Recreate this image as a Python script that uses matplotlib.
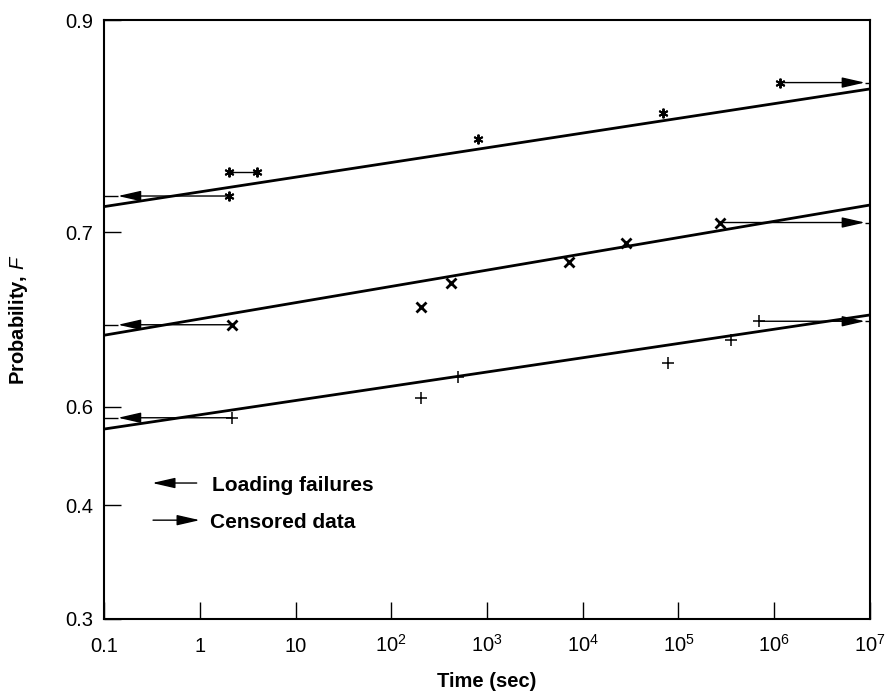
import numpy as np
import matplotlib.pyplot as plt

plt.rcParams['font.family'] = ['Liberation Sans', 'DejaVu Sans']
plt.rcParams['mathtext.fontset'] = 'custom'
plt.rcParams['mathtext.rm'] = 'Liberation Sans'
plt.rcParams['mathtext.it'] = 'Liberation Sans:italic'
plt.rcParams['mathtext.bf'] = 'Liberation Sans:bold'

# probability axis as printed (uneven spacing of the ticks)
p_ticks = [0.3, 0.4, 0.6, 0.7, 0.9]
p_pos = [0.0, 0.190, 0.354, 0.646, 1.0]

t_ticks = [0.1, 1, 10, 1e2, 1e3, 1e4, 1e5, 1e6, 1e7]
t_labels = ['0.1', '1', '10', r'$\mathregular{10^2}$', r'$\mathregular{10^3}$',
            r'$\mathregular{10^4}$', r'$\mathregular{10^5}$', r'$\mathregular{10^6}$',
            r'$\mathregular{10^7}$']

fit_t = [0.1, 1e7]

# series "*"
star_t = [800, 6.9e4]
star_p = [0.788, 0.812]
star_pair_t = [2.0, 4.0]
star_pair_p = [0.757, 0.757]
star_fail_t, star_fail_p = 2.0, 0.734
star_cens_t, star_cens_p = 1.15e6, 0.841
star_fit = [0.724, 0.835]

# series "x"
x_t = [205, 420, 7200, 2.8e4]
x_p = [0.657, 0.671, 0.683, 0.694]
x_fail_t, x_fail_p = 2.15, 0.647
x_cens_t, x_cens_p = 2.7e5, 0.709
x_fit = [0.641, 0.7255]

# series "+"
plus_t = [205, 500, 7.8e4, 3.5e5]
plus_p = [0.605, 0.617, 0.625, 0.638]
plus_fail_t, plus_fail_p = 2.15, 0.578
plus_cens_t, plus_cens_p = 6.9e5, 0.649
plus_fit = [0.555, 0.6526]


def fwd(p):
    return np.interp(p, p_ticks, p_pos)


def inv(v):
    return np.interp(v, p_pos, p_ticks)


ARROW = dict(arrowstyle='-|>,head_length=0.7,head_width=0.16', color='k',
             lw=1.0, shrinkA=0, shrinkB=0, mutation_scale=20)


def fail_arrow(ax, t, p):
    tip = 0.14
    ax.annotate('', xy=(tip, p), xytext=(t, p), arrowprops=ARROW)
    ax.plot([0.1, tip], [p, p], color='k', lw=1.0, solid_capstyle='butt')


def cens_arrow(ax, t, p):
    tip = 1e7 / 1.13
    ax.annotate('', xy=(tip, p), xytext=(t, p), arrowprops=ARROW)
    ax.plot([tip, 1e7], [p, p], color='k', lw=1.0, solid_capstyle='butt')


fig = plt.figure(figsize=(8.86, 6.93), dpi=100)
ax = fig.add_axes([0.1174, 0.1068, 0.8645, 0.8643])
ax.set_xscale('log')
ax.set_yscale('function', functions=(fwd, inv))
ax.set_xlim(0.1, 1e7)
ax.set_ylim(0.3, 0.9)

star_kw = dict(marker=(6, 2, 0), ms=7, mew=1.4, color='k', ls='none')
x_kw = dict(marker='x', ms=7, mew=2.0, color='k', ls='none')
plus_kw = dict(marker='+', ms=9, mew=1.1, color='k', ls='none')

# fitted lines
for fp in (star_fit, x_fit, plus_fit):
    ax.plot(fit_t, fp, color='k', lw=2.0)

# "*"
ax.plot(star_t, star_p, **star_kw)
ax.plot(star_pair_t, star_pair_p, color='k', lw=1.0)
ax.plot(star_pair_t, star_pair_p, **star_kw)
ax.plot([star_fail_t, star_cens_t], [star_fail_p, star_cens_p], **star_kw)
fail_arrow(ax, star_fail_t, star_fail_p)
cens_arrow(ax, star_cens_t, star_cens_p)

# "x"
ax.plot(x_t, x_p, **x_kw)
ax.plot([x_fail_t, x_cens_t], [x_fail_p, x_cens_p], **x_kw)
fail_arrow(ax, x_fail_t, x_fail_p)
cens_arrow(ax, x_cens_t, x_cens_p)

# "+"
ax.plot(plus_t, plus_p, **plus_kw)
ax.plot([plus_fail_t, plus_cens_t], [plus_fail_p, plus_cens_p], **plus_kw)
fail_arrow(ax, plus_fail_t, plus_fail_p)
cens_arrow(ax, plus_cens_t, plus_cens_p)

# key
ax.annotate('', xy=(0.063, 0.227), xytext=(0.121, 0.227), xycoords='axes fraction',
            arrowprops=ARROW)
ax.text(0.141, 0.227, 'Loading failures', transform=ax.transAxes, fontsize=15,
        fontweight='bold', va='center_baseline')
ax.annotate('', xy=(0.125, 0.165), xytext=(0.064, 0.165), xycoords='axes fraction',
            arrowprops=ARROW)
ax.text(0.138, 0.165, 'Censored data', transform=ax.transAxes, fontsize=15,
        fontweight='bold', va='center_baseline')

# axes styling
for s in ax.spines.values():
    s.set_linewidth(1.5)
ax.set_yticks(p_ticks)
ax.set_yticklabels([str(v) for v in p_ticks])
ax.minorticks_off()
ax.tick_params(axis='y', direction='in', length=12, width=1.0, pad=8, labelsize=14.5)
ax.set_xticks(t_ticks)
ax.set_xticklabels([''] * len(t_ticks))
ax.tick_params(axis='x', which='both', direction='in', length=12, width=1.0)
ax.tick_params(axis='x', which='minor', length=0)
for t, lab in zip(t_ticks, t_labels):
    ax.text(t, -0.055, lab, transform=ax.get_xaxis_transform(), ha='center',
            va='baseline', fontsize=14.5)

ax.set_xlabel('Time (sec)', fontsize=14.5, fontweight='bold')
ax.xaxis.set_label_coords(0.5, -0.088)
ax.set_ylabel(r'Probability, $\mathit{F}$', fontsize=14.5, fontweight='bold')
ax.yaxis.set_label_coords(-0.097, 0.5)

fig.savefig('out.png', dpi=100)
